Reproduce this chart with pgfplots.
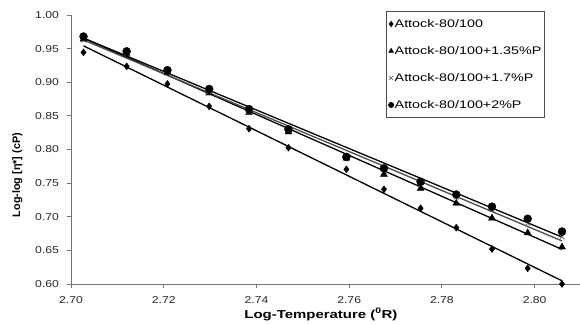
\documentclass[border=0pt]{standalone}
\usepackage{pgfplots}
\usepackage{pgfplotstable}
\pgfplotsset{compat=1.18}
\usepackage{fontspec}
\setmainfont{Liberation Sans}
\newfontfamily\tickfont[FakeStretch=1.22]{Liberation Sans}
\newfontfamily\legfont[FakeStretch=1.3]{Liberation Sans}
\pgfplotstableread{
x d t c o
2.7027 0.9445 0.964 0.963 0.968
2.7120 0.9237 0.942 0.943 0.946
2.7208 0.8974 0.914 0.915 0.918
2.7298 0.8642 0.884 0.886 0.890
2.7384 0.8310 0.855 0.857 0.860
2.7469 0.8027 0.826 0.829 0.830
2.7594 0.7705 0.787 0.786 0.789
2.7675 0.7408 0.763 0.768 0.772
2.7754 0.7126 0.742 0.748 0.752
2.7831 0.6838 0.720 0.729 0.733
2.7908 0.6520 0.698 0.711 0.715
2.7985 0.6233 0.676 0.690 0.697
2.8059 0.6000 0.655 0.670 0.678
}\datatable
\begin{document}
\begin{tikzpicture}
\begin{axis}[
  scale only axis,
  width=510pt, height=269pt,
  xmin=2.70, xmax=2.81, ymin=0.60, ymax=1.00,
  xtick={2.70,2.72,...,2.801},
  ytick={0.60,0.65,...,1.001},
  axis x line*=bottom, axis y line*=left,
  axis line style={draw=black!55, line width=0.9pt},
  tick style={draw=black!55, line width=0.9pt},
  tick align=outside, major tick length=4pt,
  xticklabel shift=4.5pt, yticklabel shift=4.5pt,
  x tick label style={/pgf/number format/.cd, fixed, fixed zerofill, precision=2},
  y tick label style={/pgf/number format/.cd, fixed, fixed zerofill, precision=2},
  /pgf/number format/assume math mode=true,
  ticklabel style={font=\tickfont\fontsize{10}{12}\selectfont, text=black!85},
  xlabel={\textbf{Log-Temperature (\textsuperscript{0}R)}},
  ylabel={\textbf{Log-log [η*] (cP)}},
  xlabel style={font=\legfont\fontsize{11.5}{13}\selectfont, at={(axis description cs:0.49,0)}, anchor=center, yshift=-30.5pt},
  ylabel style={font=\fontsize{10.8}{13}\selectfont, at={(axis description cs:-0.105,0.405)}, anchor=center, rotate=0},
  clip=false,
  legend style={at={(0.618,1.015)}, anchor=north west, draw=black!70, line width=0.7pt,
    font=\legfont\fontsize{11}{13}\selectfont, row sep=13.5pt, inner xsep=2pt, inner ysep=6pt,
    legend cell align=left, nodes={inner xsep=1pt}},
  legend image code/.code={\draw[mark size=2.6pt] plot coordinates {(0.14cm,0cm)};},
]
\addplot[only marks, mark=diamond*, mark size=3.5pt, black] table[x=x,y=d]{\datatable};
\addlegendentry{Attock-80/100}
\addplot[only marks, mark=triangle*, mark size=4pt, black] table[x=x,y=t]{\datatable};
\addlegendentry{Attock-80/100+1.35\%P}
\addplot[only marks, mark=x, mark size=3.5pt, gray!80!black, line width=0.6pt] table[x=x,y=c]{\datatable};
\addlegendentry{Attock-80/100+1.7\%P}
\addplot[only marks, mark=*, mark size=4pt, black] table[x=x,y=o]{\datatable};
\addlegendentry{Attock-80/100+2\%P}
\addplot[forget plot, black, line width=1.3pt, no marks] table[x=x, y={create col/linear regression={y=d}}]{\datatable};
\addplot[forget plot, black, line width=1.3pt, no marks] table[x=x, y={create col/linear regression={y=t}}]{\datatable};
\addplot[forget plot, gray!60!black, line width=1.3pt, no marks] table[x=x, y={create col/linear regression={y=c}}]{\datatable};
\addplot[forget plot, black, line width=1.3pt, no marks] table[x=x, y={create col/linear regression={y=o}}]{\datatable};
\end{axis}
\pgfresetboundingbox
\useasboundingbox ([xshift=-71pt,yshift=-41pt]current axis.south west) rectangle ([xshift=509pt,yshift=15pt]current axis.north west);
\end{tikzpicture}
\end{document}
